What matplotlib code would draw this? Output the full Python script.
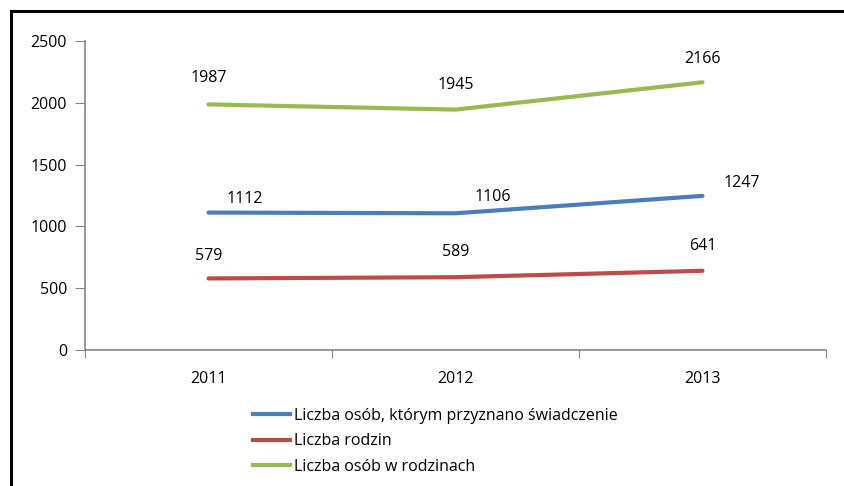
import matplotlib
matplotlib.use("Agg")
import matplotlib.pyplot as plt
from matplotlib.lines import Line2D

years = ["2011", "2012", "2013"]
persons_granted = [1112, 1106, 1247]
families = [579, 589, 641]
persons_in_families = [1987, 1945, 2166]
series_names = ["Liczba osób, którym przyznano świadczenie", "Liczba rodzin", "Liczba osób w rodzinach"]
colors = ["#4A7EBB", "#BE4B48", "#98B954"]

plt.rcParams['font.family'] = ['Open Sans', 'DejaVu Sans']
FS = 11.5

W, H = 844, 486
fig = plt.figure(figsize=(W / 100, H / 100), dpi=100)

# outer border (left and top visible)
fig.add_artist(Line2D([10.5 / W, 10.5 / W], [0, 1 - 11 / H], color="black", lw=2.2, transform=fig.transFigure))
fig.add_artist(Line2D([10.5 / W, 1], [1 - 11 / H, 1 - 11 / H], color="black", lw=2.2, transform=fig.transFigure))

left, right, top, bottom = 85, 826, 41, 350
ax = fig.add_axes([left / W, 1 - bottom / H, (right - left) / W, (bottom - top) / H])

x = list(range(len(years)))
series = [persons_granted, families, persons_in_families]
for vals, c, name in zip(series, colors, series_names):
    ax.plot(x, vals, color=c, lw=3, solid_capstyle='round', label=name)

ax.set_xlim(-0.5, 2.5)
ax.set_ylim(0, 2500)
ax.set_yticks(range(0, 2501, 500))
ax.set_xticks([i + 0.5 for i in range(-1, 3)])
ax.set_xticklabels([])
ax.set_xticks(x, minor=True)
ax.set_xticklabels(years, minor=True, fontsize=FS)
ax.tick_params(axis='x', which='minor', length=0, pad=15)
ax.tick_params(axis='x', which='major', length=6, color="#868686", direction='out')
ax.tick_params(axis='y', length=7, color="#868686", labelsize=FS, pad=6)
for s in ['top', 'right']:
    ax.spines[s].set_visible(False)
for s in ['left', 'bottom']:
    ax.spines[s].set_color("#868686")
    ax.spines[s].set_linewidth(1.2)

# data labels (offsets in points)
offsets = {
    0: [(26, 10), (27, 12), (28, 9)],
    1: [(0, 16), (0, 18), (0, 18)],
    2: [(0, 19), (0, 18), (0, 17)],
}
for si, vals in enumerate(series):
    for i, v in enumerate(vals):
        dx, dy = offsets[si][i]
        ax.annotate(str(v), (i, v), xytext=(dx, dy), textcoords='offset points',
                    ha='center', va='center', fontsize=FS)

handles = [Line2D([], [], color=c, lw=3) for c in colors]
fig.legend(handles, series_names, loc='upper left', bbox_to_anchor=(245 / W, 1 - 400 / H),
           frameon=False, fontsize=FS, handlelength=2.3, handletextpad=0.25,
           labelspacing=0.58, borderpad=0)

fig.savefig("out.png", dpi=100)
